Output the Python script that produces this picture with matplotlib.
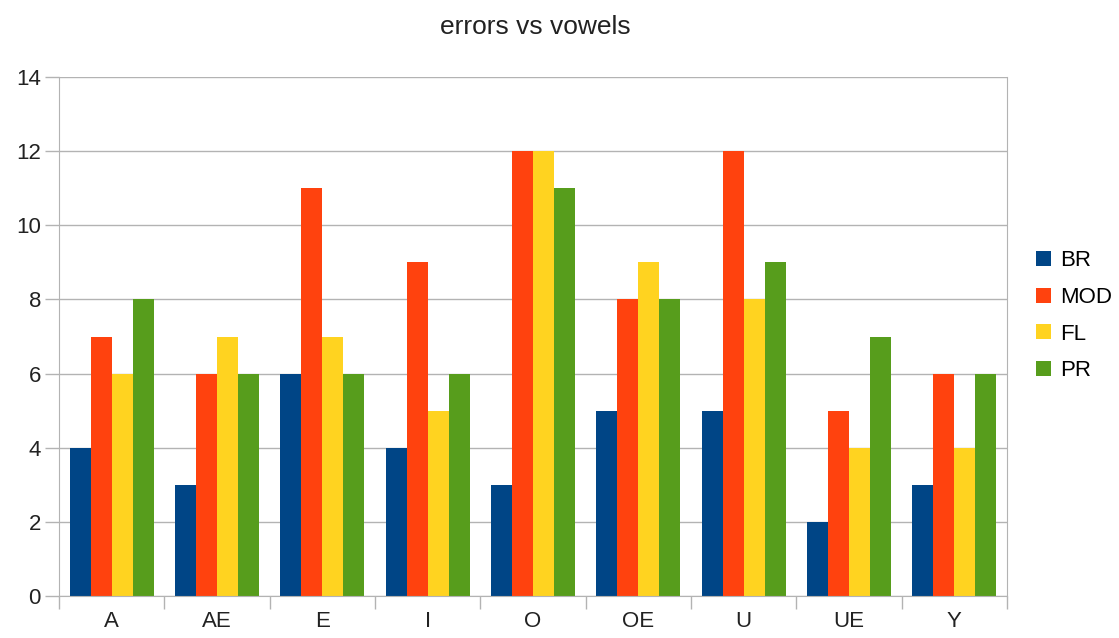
import numpy as np
import matplotlib.pyplot as plt

plt.rcParams['font.family'] = ['Liberation Sans', 'DejaVu Sans']

vowels = ['A', 'AE', 'E', 'I', 'O', 'OE', 'U', 'UE', 'Y']
series = ['BR', 'MOD', 'FL', 'PR']
br = [4, 3, 6, 4, 3, 5, 5, 2, 3]
mod = [7, 6, 11, 9, 12, 8, 12, 5, 6]
fl = [6, 7, 7, 5, 12, 9, 8, 4, 4]
pr = [8, 6, 6, 6, 11, 8, 9, 7, 6]
colors = ['#004586', '#ff420e', '#ffd320', '#579d1c']

fig = plt.figure(figsize=(11.19, 6.38), dpi=100)
ax = fig.add_axes([59 / 1119, 42 / 638, 948 / 1119, 519 / 638])

x = np.arange(len(vowels))
w = 0.2
for i, (name, vals) in enumerate(zip(series, [br, mod, fl, pr])):
    ax.bar(x + (i - 1.5) * w, vals, w, color=colors[i], label=name)

ax.set_xlim(-0.5, len(vowels) - 0.5)
ax.set_ylim(0, 14)
ax.set_yticks(range(0, 15, 2))
ax.set_xticks(x)
ax.set_xticklabels(vowels)
ax.set_xticks(np.arange(-0.5, len(vowels), 1), minor=True)
ax.tick_params(axis='x', which='major', length=0, pad=11, labelsize=16, colors='#222222')
ax.tick_params(axis='x', which='minor', length=9, color='#b3b3b3', width=1)
ax.tick_params(axis='y', length=10, color='#b3b3b3', width=1, labelsize=16, pad=3, labelcolor='#222222')
ax.yaxis.grid(True, color='#b3b3b3', linewidth=1)
ax.set_axisbelow(True)
for s in ['left', 'right', 'bottom', 'top']:
    ax.spines[s].set_color('#b3b3b3')
ax.spines['top'].set_visible(False)

fig.text(0.478, 0.957, 'errors vs vowels', ha='center', va='center', fontsize=19, color='#222222')

ax.legend(loc='center left', bbox_to_anchor=(1.01, 0.54), frameon=False, fontsize=16,
          handlelength=0.65, handleheight=0.65, handletextpad=0.4, labelspacing=0.7)

fig.savefig('out.png', dpi=100)
